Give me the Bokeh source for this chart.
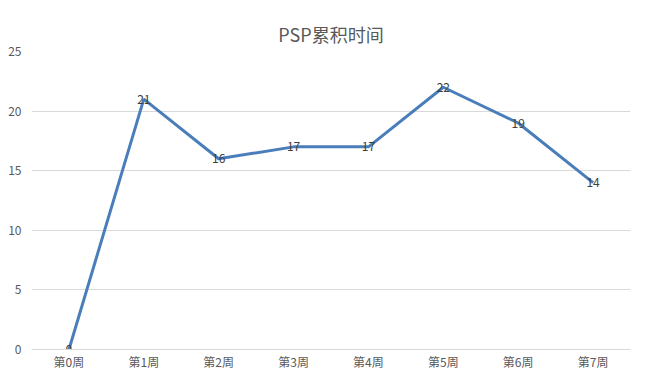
from bokeh.plotting import figure
from bokeh.models import ColumnDataSource, Range1d, FactorRange, FixedTicker, Title
from bokeh.core.properties import value
from bokeh.embed import file_html
from bokeh.resources import INLINE

weeks = ["第0周", "第1周", "第2周", "第3周", "第4周", "第5周", "第6周", "第7周"]
hours = [0, 21, 16, 17, 17, 22, 19, 14]
y_ticks = [0, 5, 10, 15, 20, 25]
title_text = "PSP累积时间"

FONT = "Noto Sans CJK SC"

src = ColumnDataSource(dict(x=weeks, y=hours, label=[str(v) for v in hours]))

p = figure(x_range=FactorRange(*weeks), y_range=Range1d(0, 25),
           frame_width=599, frame_height=298,
           output_backend="svg", toolbar_location=None,
           min_border_left=31, min_border_right=14, min_border_top=51, min_border_bottom=31)

t = Title(text=title_text, align="center", text_font=FONT,
          text_font_size="18px", text_color="#595959", text_font_style="normal", standoff=10)
p.add_layout(t, "above")

p.line("x", "y", source=src, line_color="#4A7EBB", line_width=3)
p.text("x", "y", text="label", source=src, text_align="center", text_baseline="middle",
       text_font=value(FONT), text_font_size="12px", text_color="#404040")

p.outline_line_color = None
p.xgrid.grid_line_color = None
p.ygrid.grid_line_color = "#D9D9D9"
p.ygrid.grid_line_width = 1
p.yaxis.ticker = FixedTicker(ticks=y_ticks)
for ax in (p.xaxis[0], p.yaxis[0]):
    ax.major_tick_line_color = None
    ax.minor_tick_line_color = None
    ax.major_tick_in = 0
    ax.major_tick_out = 0
    ax.minor_tick_in = 0
    ax.minor_tick_out = 0
    ax.major_label_text_font = FONT
    ax.major_label_text_font_size = "12px"
    ax.major_label_text_color = "#595959"
p.yaxis.axis_line_color = None
p.xaxis.axis_line_color = "#D9D9D9"
p.yaxis.major_label_standoff = 10
p.xaxis.major_label_standoff = 3

open("out.html", "w").write(file_html(p, INLINE))
